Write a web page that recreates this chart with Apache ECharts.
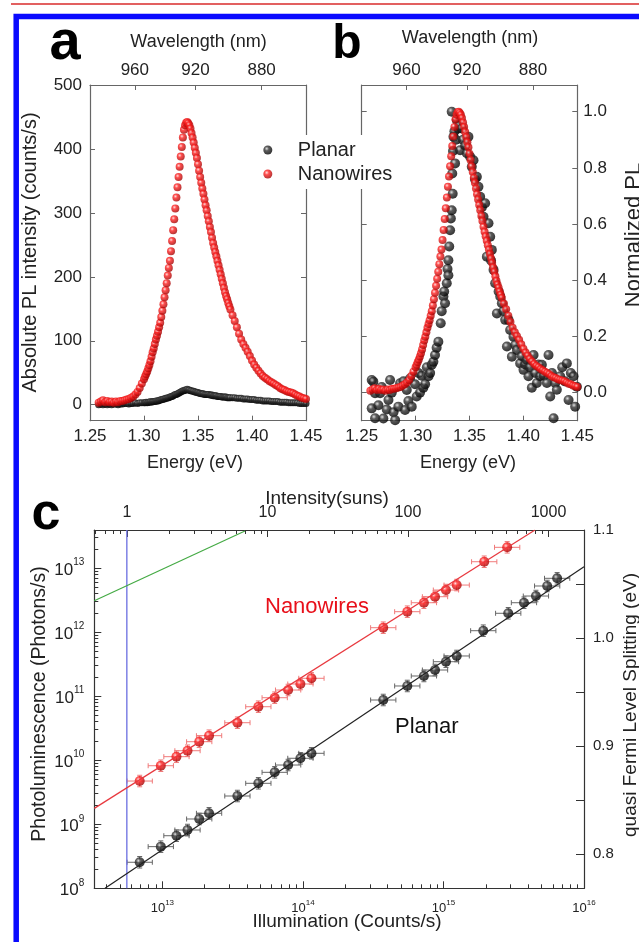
<!DOCTYPE html>
<html>
<head>
<meta charset="utf-8">
<script src="https://cdn.jsdelivr.net/npm/echarts@6/dist/echarts.min.js"></script>
<style>
  html, body { margin: 0; padding: 0; background: #fff; }
  #chart { width: 639px; height: 942px; }
</style>
</head>
<body>
<div id="chart"></div>
<script>
// ---------- data ----------

// panels a/b : PL spectra, energy in eV
const energy = [
  1.258,1.260,1.262,1.264,1.266,1.268,1.270,1.272,1.274,1.276,1.278,1.280,1.282,1.284,1.286,1.288,1.290,1.292,1.294,1.296,1.298,
  1.300,1.301,1.302,1.303,1.304,1.305,1.306,1.307,1.308,1.309,
  1.310,1.311,1.312,1.313,1.314,1.315,1.316,1.317,1.318,1.319,
  1.320,1.321,1.322,1.323,1.324,1.325,1.326,1.327,1.328,1.329,
  1.330,1.331,1.332,1.333,1.334,1.335,1.336,1.337,1.338,1.339,
  1.340,1.341,1.342,1.343,1.344,1.345,1.346,1.347,1.348,1.349,
  1.350,1.351,1.352,1.353,1.354,1.355,1.356,1.357,1.358,1.359,
  1.360,1.361,1.362,1.363,1.364,1.365,1.366,1.367,1.368,1.369,
  1.370,1.371,1.372,1.373,1.374,1.375,1.376,1.377,1.378,1.379,
  1.380,
  1.382,1.384,1.386,1.388,1.390,1.392,1.394,1.396,1.398,1.400,
  1.402,1.404,1.406,1.408,1.410,1.412,1.414,1.416,1.418,1.420,
  1.422,1.424,1.426,1.428,1.430,1.432,1.434,1.436,1.438,1.440,
  1.442,1.444,1.446,1.448,1.450
];

// absolute PL (counts/s), same grid as energy
const nanowiresPL = [
  3,5,7,4,6,4,5,3,5,4,6,6,7,8,9,11,13,16,20,26,33,
  40,44,48,52,57,62,68,75,82,88,
  95,102,108,114,121,128,137,147,157,168,
  179,190,202,214,225,240,256,273,290,307,
  324,340,356,372,388,403,418,430,437,441,
  442,440,437,432,425,418,410,402,394,386,
  376,366,356,347,338,330,321,312,304,295,
  287,278,270,261,253,246,239,232,225,218,
  211,204,197,190,183,176,170,165,159,154,
  149,
  140,131,121,111,102,95,89,83,76,69,
  63,58,53,49,45,42,40,37,35,33,
  31,29,26,24,23,21,20,19,18,16,
  14,13,11,10,9
];
const planarPL = [
  0,1,0,1,0,1,0,1,1,0,1,1,2,2,1,2,2,3,2,3,3,
  3,3,4,3,4,4,5,4,5,5,
  5,6,6,6,7,7,8,8,9,9,
  10,10,11,11,12,13,13,14,15,16,
  16,17,18,19,20,21,22,22,23,23,
  24,23,23,22,22,21,21,20,20,19,
  19,18,18,17,17,17,16,16,16,16,
  16,15,15,15,14,14,14,14,13,13,
  13,13,12,12,12,12,12,11,11,11,
  11,
  11,11,10,10,10,9,9,9,8,8,
  8,7,7,7,6,6,6,6,5,5,
  5,5,4,4,4,4,3,3,3,3,
  3,2,2,2,2
];

// panel b : normalized planar PL (noisy) [energy, normalized PL]
const planarNorm = [
  [1.2593,-0.056],[1.2593,0.045],[1.2608,0.039],[1.2624,-0.091],[1.2624,-0.002],[1.2655,-0.045],
  [1.2671,-0.002],[1.2686,0.020],[1.2701,-0.092],[1.2732,-0.060],[1.2748,-0.026],[1.2763,0.045],
  [1.2779,0.000],[1.2795,-0.070],[1.2810,-0.098],[1.2840,-0.050],[1.2856,0.033],[1.2887,0.040],
  [1.2902,-0.062],[1.2918,0.009],[1.2933,-0.030],[1.2948,0.050],[1.2964,-0.050],[1.2995,0.030],
  [1.3010,-0.014],[1.3026,0.070],[1.3041,0.000],[1.3057,0.060],[1.3072,0.017],[1.3088,0.030],
  [1.3104,0.090],[1.3120,0.058],[1.3135,0.070],[1.3150,0.099],[1.3165,0.110],[1.3180,0.134],
  [1.3195,0.160],[1.3211,0.181],[1.3233,0.247],[1.3242,0.290],[1.3258,0.342],[1.3265,0.360],
  [1.3273,0.318],[1.3289,0.389],[1.3296,0.440],[1.3304,0.471],[1.3304,0.418],[1.3312,0.520],
  [1.3320,0.578],[1.3327,0.620],[1.3335,0.649],[1.3344,0.708],[1.3340,0.780],[1.3347,0.860],
  [1.3335,1.000],[1.3351,0.911],[1.3360,0.930],[1.3366,0.816],[1.3375,0.900],[1.3382,0.970],
  [1.3397,0.940],[1.3405,0.950],[1.3413,0.863],[1.3428,0.940],[1.3440,0.900],[1.3460,0.880],
  [1.3475,0.852],[1.3490,0.911],[1.3505,0.840],[1.3521,0.804],[1.3537,0.827],[1.3550,0.760],
  [1.3568,0.768],[1.3583,0.733],[1.3599,0.697],[1.3615,0.660],[1.3630,0.626],[1.3645,0.674],
  [1.3661,0.484],[1.3676,0.603],[1.3692,0.555],[1.3700,0.470],[1.3707,0.508],[1.3723,0.437],
  [1.3738,0.389],[1.3754,0.282],[1.3770,0.360],[1.3785,0.342],[1.3800,0.318],[1.3815,0.290],
  [1.3831,0.259],[1.3847,0.164],[1.3862,0.259],[1.3877,0.223],[1.3893,0.128],[1.3908,0.199],
  [1.3925,0.170],[1.3940,0.152],[1.3970,0.104],[1.3985,0.130],[1.4001,0.081],[1.4016,0.100],
  [1.4032,0.116],[1.4047,0.058],[1.4060,0.090],[1.4078,0.017],[1.4094,0.134],[1.4110,0.070],
  [1.4125,0.034],[1.4140,0.100],[1.4156,0.058],[1.4171,0.099],[1.4190,0.060],[1.4218,0.034],
  [1.4233,0.134],[1.4249,-0.014],[1.4265,0.070],[1.4280,-0.091],[1.4295,0.034],[1.4310,0.010],
  [1.4341,0.058],[1.4360,0.090],[1.4385,0.040],[1.4403,0.104],[1.4419,-0.026],[1.4440,0.070],
  [1.4465,0.058],[1.4480,-0.050],[1.4496,0.021]
];

// tick labels
const energyTicks = [1.25, 1.30, 1.35, 1.40, 1.45];
const wavelengthTicks = [960, 920, 880];
const countTicks = [0, 100, 200, 300, 400, 500];
const normTicks = [0, 0.2, 0.4, 0.6, 0.8, 1.0];

// panel c : PL vs illumination
const illumNW = [6.9e12, 9.75e12, 1.26e13, 1.51e13, 1.83e13, 2.15e13, 3.42e13, 4.82e13, 6.3e13, 7.85e13,
  9.6e13, 1.15e14, 3.73e14, 5.53e14, 7.26e14, 8.71e14, 1.042e15, 1.242e15, 1.95e15, 2.84e15];
const plNW = [4.73e9, 8.2e9, 1.135e10, 1.406e10, 1.945e10, 2.415e10, 3.85e10, 6.84e10, 9.46e10, 1.247e11,
  1.549e11, 1.901e11, 1.172e12, 2.084e12, 2.877e12, 3.57e12, 4.54e12, 5.43e12, 1.256e13, 2.109e13];
const illumPlanar = [6.9e12, 9.75e12, 1.26e13, 1.51e13, 1.83e13, 2.15e13, 3.42e13, 4.82e13, 6.3e13, 7.85e13,
  9.6e13, 1.15e14, 3.73e14, 5.53e14, 7.26e14, 8.71e14, 1.042e15, 1.242e15, 1.92e15, 2.89e15,
  3.74e15, 4.55e15, 5.47e15, 6.44e15];
const plPlanar = [2.55e8, 4.47e8, 6.62e8, 8.13e8, 1.208e9, 1.483e9, 2.76e9, 4.36e9, 6.47e9, 8.41e9,
  1.072e10, 1.282e10, 8.71e10, 1.442e11, 2.065e11, 2.56e11, 3.45e11, 4.24e11, 1.052e12, 1.968e12,
  2.877e12, 3.66e12, 5.25e12, 6.92e12];
const errFactor = 1.23;   // error bars, both directions

// straight lines of panel c (end points)
const nwFit = [[3.28e12, 1.77e9], [4.48e15, 3.93e13]];
const planarFit = [[3.91e12, 1e8], [1e16, 1.05e13]];
const idealLine = [[3.28e12, 3.09e12], [3.87e13, 3.79e13]];
const oneSun = 5.59e12;   // counts/s for 1 sun

const illumRange = [3.28e12, 1e16];
const plRange = [1e8, 3.93e13];
const qflsRange = [0.7683, 1.1];
const qflsTicks = [0.8, 0.85, 0.9, 0.95, 1.0, 1.05, 1.1];
const qflsLabels = [0.8, 0.9, 1.0, 1.1];
const sunsLabels = [1, 10, 100, 1000];

// ---------- chart ----------
const FONT = '"Liberation Sans", Arial, Helvetica, sans-serif';
const HC = 1239.84;
const chart = echarts.init(document.getElementById('chart'));

const redBall = {type: 'radial', x: 0.38, y: 0.35, r: 0.68, colorStops: [
  {offset: 0, color: '#ffd6d6'}, {offset: 0.35, color: '#ff2222'}, {offset: 1, color: '#a00000'}]};
const blackBall = {type: 'radial', x: 0.38, y: 0.35, r: 0.68, colorStops: [
  {offset: 0, color: '#d8d8d8'}, {offset: 0.35, color: '#333'}, {offset: 1, color: '#000'}]};

const nwPeak = Math.max.apply(null, nanowiresPL);
const wlE = wavelengthTicks.map(w => HC / w);

// minor tick positions for log axes
function logMinor(lo, hi) {
  const out = [];
  for (let d = Math.floor(Math.log10(lo)); d <= Math.ceil(Math.log10(hi)); d++) {
    for (let k = 2; k <= 9; k++) out.push(k * Math.pow(10, d));
  }
  return out;
}
function decades(lo, hi) {
  const out = [];
  for (let d = Math.ceil(Math.log10(lo) - 1e-9); d <= Math.floor(Math.log10(hi) + 1e-9); d++) out.push(Math.pow(10, d));
  return out;
}
const sunsRange = [illumRange[0] / oneSun, illumRange[1] / oneSun];

const lineAB = {show: true, onZero: false, lineStyle: {color: '#666', width: 1.2}};
const lineC = {show: true, onZero: false, lineStyle: {color: '#333', width: 1.2}};
const noLine = {show: false, onZero: false};
function ticks(values, len, color) {
  return {show: true, inside: true, length: len, customValues: values, lineStyle: {color: color, width: 1}};
}
function labels(values, fmt, size, margin) {
  return {show: true, customValues: values, formatter: fmt, fontSize: size, margin: margin,
    color: '#222', fontFamily: FONT, hideOverlap: false};
}
const noLabel = {show: false};
const powFmt = v => '{b|10}{s|' + Math.round(Math.log10(v)) + '}';
function powLabels(values, base, sup, margin) {
  const l = labels(values, powFmt, base, margin);
  l.rich = {
    b: {fontSize: base, fontFamily: FONT, color: '#222', lineHeight: base + 4, verticalAlign: 'bottom'},
    s: {fontSize: sup, fontFamily: FONT, color: '#222', lineHeight: sup + 2, verticalAlign: 'top'}
  };
  return l;
}

function errorBars(color) {
  return function (params, api) {
    const x = api.value(0), y = api.value(1);
    const l = api.coord([x / errFactor, y]);
    const r = api.coord([x * errFactor, y]);
    const b = api.coord([x, y / errFactor]);
    const t = api.coord([x, y * errFactor]);
    const cap = 2.5;
    const seg = (x1, y1, x2, y2) => ({type: 'line', shape: {x1, y1, x2, y2}, style: {stroke: color, lineWidth: 1}});
    return {type: 'group', children: [
      seg(l[0], l[1], r[0], r[1]),
      seg(l[0], l[1] - cap, l[0], l[1] + cap),
      seg(r[0], r[1] - cap, r[0], r[1] + cap),
      seg(b[0], b[1], t[0], t[1]),
      seg(b[0] - cap, b[1], b[0] + cap, b[1]),
      seg(t[0] - cap, t[1], t[0] + cap, t[1])
    ]};
  };
}

function txt(text, x, y, size, o) {
  o = o || {};
  return {
    type: 'text', x: x, y: y, z: 50,
    rotation: o.rot ? Math.PI / 2 : 0,
    style: {
      text: text, fontSize: size, fontFamily: FONT, fontWeight: o.bold ? 'bold' : 'normal',
      fill: o.color || '#222',
      align: o.align || 'center', textAlign: o.align || 'center',
      verticalAlign: 'middle', textVerticalAlign: 'middle'
    }
  };
}

const option = {
  animation: false,
  backgroundColor: '#fff',
  textStyle: {fontFamily: FONT},
  grid: [
    {left: 90, top: 85, width: 216, height: 335.7, outerBoundsMode: 'none'},
    {left: 361.7, top: 85, width: 215.6, height: 335.7, outerBoundsMode: 'none'},
    {left: 94.3, top: 530, width: 489.7, height: 358.3, outerBoundsMode: 'none'}
  ],
  legend: {
    data: ['Planar', 'Nanowires'], orient: 'vertical', left: 258.3, top: 135,
    itemWidth: 50, itemHeight: 9, itemGap: 4, icon: 'circle', selectedMode: false,
    padding: [5, 12, 5, 5], backgroundColor: '#fff',
    textStyle: {fontSize: 20, lineHeight: 20, color: '#222', fontFamily: FONT}
  },
  xAxis: [
    {gridIndex: 0, type: 'value', position: 'bottom', min: 1.25, max: 1.45, axisLine: lineAB,
      splitLine: {show: false}, axisTick: ticks(energyTicks, 5, '#666'),
      axisLabel: labels(energyTicks, v => v.toFixed(2), 17, 7)},
    {gridIndex: 0, type: 'value', position: 'top', min: 1.25, max: 1.45, axisLine: lineAB,
      splitLine: {show: false}, axisTick: ticks(wlE, 5, '#666'),
      axisLabel: labels(wlE, v => Math.round(HC / v), 17, 6)},
    {gridIndex: 1, type: 'value', position: 'bottom', min: 1.25, max: 1.45, axisLine: lineAB,
      splitLine: {show: false}, axisTick: ticks(energyTicks, 5, '#666'),
      axisLabel: labels(energyTicks, v => v.toFixed(2), 17, 7)},
    {gridIndex: 1, type: 'value', position: 'top', min: 1.25, max: 1.45, axisLine: lineAB,
      splitLine: {show: false}, axisTick: ticks(wlE, 5, '#666'),
      axisLabel: labels(wlE, v => Math.round(HC / v), 17, 6)},
    {gridIndex: 2, type: 'log', position: 'bottom', min: illumRange[0], max: illumRange[1], axisLine: lineC,
      splitLine: {show: false}, axisTick: ticks(decades(illumRange[0], illumRange[1]), 7, '#333'),
      axisLabel: powLabels(decades(illumRange[0], illumRange[1]), 13, 8, 10)},
    {gridIndex: 2, type: 'log', position: 'bottom', min: illumRange[0], max: illumRange[1], axisLine: noLine,
      splitLine: {show: false}, axisTick: ticks(logMinor(illumRange[0], illumRange[1]), 4, '#333'),
      axisLabel: noLabel},
    {gridIndex: 2, type: 'log', position: 'top', min: sunsRange[0], max: sunsRange[1], axisLine: lineC,
      splitLine: {show: false}, axisTick: ticks(sunsLabels, 7, '#333'),
      axisLabel: labels(sunsLabels, v => String(Math.round(v)), 16, 9)},
    {gridIndex: 2, type: 'log', position: 'top', min: sunsRange[0], max: sunsRange[1], axisLine: noLine,
      splitLine: {show: false}, axisTick: ticks(logMinor(sunsRange[0], sunsRange[1]), 4, '#333'),
      axisLabel: noLabel}
  ],
  yAxis: [
    {gridIndex: 0, type: 'value', position: 'left', min: -25, max: 500, axisLine: lineAB,
      splitLine: {show: false}, axisTick: ticks(countTicks, 5, '#666'),
      axisLabel: labels(countTicks, v => String(v), 17, 8)},
    {gridIndex: 0, type: 'value', position: 'right', min: -25, max: 500, axisLine: lineAB,
      splitLine: {show: false}, axisTick: ticks(countTicks, 5, '#666'), axisLabel: noLabel},
    {gridIndex: 1, type: 'value', position: 'left', min: -0.1, max: 1.095, axisLine: lineAB,
      splitLine: {show: false}, axisTick: ticks(normTicks, 5, '#666'), axisLabel: noLabel},
    {gridIndex: 1, type: 'value', position: 'right', min: -0.1, max: 1.095, axisLine: lineAB,
      splitLine: {show: false}, axisTick: ticks(normTicks, 5, '#666'),
      axisLabel: labels(normTicks, v => v.toFixed(1), 17, 6)},
    {gridIndex: 2, type: 'log', position: 'left', min: plRange[0], max: plRange[1], axisLine: lineC,
      splitLine: {show: false}, axisTick: ticks(decades(plRange[0], plRange[1]), 7, '#333'),
      axisLabel: powLabels(decades(plRange[0], plRange[1]), 17, 10, 10)},
    {gridIndex: 2, type: 'log', position: 'left', min: plRange[0], max: plRange[1], axisLine: noLine,
      splitLine: {show: false}, axisTick: ticks(logMinor(plRange[0], plRange[1]), 4, '#333'),
      axisLabel: noLabel},
    {gridIndex: 2, type: 'value', position: 'right', min: qflsRange[0], max: qflsRange[1], axisLine: lineC,
      splitLine: {show: false}, axisTick: ticks(qflsTicks, 8, '#333'),
      axisLabel: labels(qflsLabels, v => v.toFixed(1), 15, 9)}
  ],
  series: [
    // panel a
    {name: 'Planar', type: 'scatter', xAxisIndex: 0, yAxisIndex: 0, symbolSize: 7,
      itemStyle: {color: blackBall}, data: energy.map((e, i) => [e, planarPL[i]])},
    {name: 'Nanowires', type: 'scatter', xAxisIndex: 0, yAxisIndex: 0, symbolSize: 8,
      itemStyle: {color: redBall}, data: energy.map((e, i) => [e, nanowiresPL[i]])},
    // panel b
    {name: 'Planar', type: 'scatter', xAxisIndex: 2, yAxisIndex: 3, symbolSize: 10,
      itemStyle: {color: blackBall}, data: planarNorm},
    {name: 'Nanowires', type: 'scatter', xAxisIndex: 2, yAxisIndex: 3, symbolSize: 8,
      itemStyle: {color: redBall}, data: energy.map((e, i) => [e, nanowiresPL[i] / nwPeak])},
    // panel c
    {name: '1 sun', type: 'line', xAxisIndex: 4, yAxisIndex: 4, symbol: 'none',
      lineStyle: {color: '#6a6ee0', width: 1.3}, data: [[oneSun, plRange[0]], [oneSun, plRange[1]]]},
    {name: 'ideal', type: 'line', xAxisIndex: 4, yAxisIndex: 4, symbol: 'none',
      lineStyle: {color: '#44aa44', width: 1.2}, data: idealLine},
    {name: 'NW fit', type: 'line', xAxisIndex: 4, yAxisIndex: 4, symbol: 'none',
      lineStyle: {color: '#e8393f', width: 1.2}, data: nwFit},
    {name: 'Planar fit', type: 'line', xAxisIndex: 4, yAxisIndex: 4, symbol: 'none',
      lineStyle: {color: '#222', width: 1.2}, data: planarFit},
    {name: 'NW err', type: 'custom', xAxisIndex: 4, yAxisIndex: 4, renderItem: errorBars('#f07a7a'),
      data: illumNW.map((x, i) => [x, plNW[i]])},
    {name: 'Planar err', type: 'custom', xAxisIndex: 4, yAxisIndex: 4, renderItem: errorBars('#666'),
      data: illumPlanar.map((x, i) => [x, plPlanar[i]])},
    {name: 'NW PL', type: 'scatter', xAxisIndex: 4, yAxisIndex: 4, symbolSize: 10,
      itemStyle: {color: redBall}, data: illumNW.map((x, i) => [x, plNW[i]])},
    {name: 'Planar PL', type: 'scatter', xAxisIndex: 4, yAxisIndex: 4, symbolSize: 10,
      itemStyle: {color: blackBall}, data: illumPlanar.map((x, i) => [x, plPlanar[i]])}
  ],
  graphic: [
    {type: 'line', shape: {x1: 11, y1: 4, x2: 639, y2: 4}, style: {stroke: '#d92b2b', lineWidth: 1.6}, z: 100},
    {type: 'rect', shape: {x: 16.2, y: 16.5, width: 700, height: 1000},
      style: {fill: 'none', stroke: '#0a0aff', lineWidth: 5.5}, z: 100},
    txt('a', 65, 43.6, 56, {bold: true, color: '#000'}),
    txt('b', 347, 45, 48, {bold: true, color: '#000'}),
    txt('c', 46, 515, 52, {bold: true, color: '#000'}),
    txt('Wavelength (nm)', 198.5, 41.7, 18),
    txt('Wavelength (nm)', 470, 38.5, 18),
    txt('Energy (eV)', 195, 463, 18),
    txt('Energy (eV)', 468, 463, 18),
    txt('Absolute PL intensity (counts/s)', 30, 252.5, 20, {rot: true}),
    txt('Normalized PL', 634, 235, 22, {rot: true}),
    txt('Intensity(suns)', 327, 498.5, 19),
    txt('Photoluminescence (Photons/s)', 39.5, 704, 19.5, {rot: true}),
    txt('quasi Fermi Level Splitting (eV)', 630.5, 705, 19, {rot: true}),
    txt('Illumination (Counts/s)', 347, 921.7, 19),
    txt('Nanowires', 265, 606.7, 22, {align: 'left', color: '#e8101a'}),
    txt('Planar', 395, 727.3, 22, {align: 'left', color: '#111'})
  ]
};

chart.setOption(option);
</script>
</body>
</html>
